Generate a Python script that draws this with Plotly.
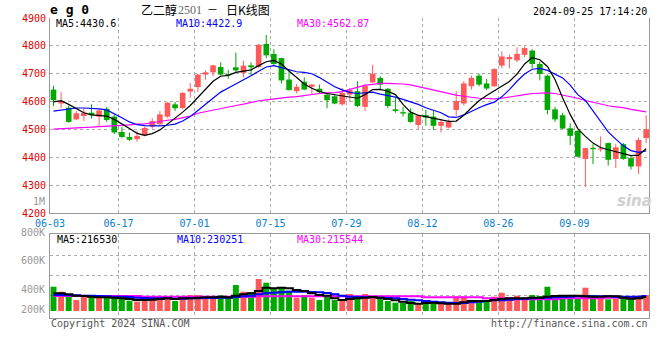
import plotly.graph_objects as go

# ---------------- data ----------------
dates = ["06-03","06-04","06-05","06-06","06-07","06-11","06-12","06-13","06-14","06-17",
         "06-18","06-19","06-20","06-21","06-24","06-25","06-26","06-27","06-28","07-01",
         "07-02","07-03","07-04","07-05","07-08","07-09","07-10","07-11","07-12","07-15",
         "07-16","07-17","07-18","07-19","07-22","07-23","07-24","07-25","07-26","07-29",
         "07-30","07-31","08-01","08-02","08-05","08-06","08-07","08-08","08-09","08-12",
         "08-13","08-14","08-15","08-16","08-19","08-20","08-21","08-22","08-23","08-26",
         "08-27","08-28","08-29","08-30","09-02","09-03","09-04","09-05","09-06","09-09",
         "09-10","09-11","09-12","09-13","09-18","09-19","09-20","09-23","09-24"]

opens = [4643,4593,4578,4536,4548,4560,4546,4574,4546,4491,
         4473,4465,4479,4510,4519,4546,4590,4577,4636,4652,
         4697,4705,4724,4699,4723,4703,4730,4724,4807,4771,
         4756,4679,4637,4671,4653,4646,4625,4619,4590,4625,
         4637,4581,4669,4685,4646,4572,4562,4560,4516,4551,
         4546,4513,4507,4570,4593,4655,4693,4665,4655,4729,
         4752,4748,4768,4783,4735,4693,4572,4551,4504,4495,
         4394,4434,4428,4451,4394,4447,4397,4367,4469]
highs = [4657,4634,4586,4566,4576,4590,4572,4581,4554,4509,
         4489,4495,4510,4540,4566,4598,4599,4634,4667,4699,
         4712,4732,4741,4714,4776,4747,4741,4807,4839,4788,
         4758,4717,4663,4687,4663,4661,4631,4625,4649,4649,
         4673,4661,4732,4691,4649,4614,4581,4576,4554,4570,
         4566,4536,4536,4637,4673,4693,4700,4681,4720,4780,
         4768,4795,4798,4788,4744,4697,4581,4560,4522,4497,
         4435,4447,4475,4453,4447,4451,4408,4471,4551]
lows = [4584,4576,4524,4533,4530,4539,4513,4527,4483,4469,
        4459,4456,4475,4503,4513,4542,4566,4572,4614,4634,
        4679,4691,4693,4682,4705,4687,4693,4720,4756,4729,
        4665,4640,4629,4641,4625,4629,4576,4590,4586,4598,
        4581,4566,4667,4643,4576,4560,4546,4524,4501,4513,
        4498,4489,4504,4548,4586,4643,4655,4641,4653,4720,
        4720,4741,4760,4720,4676,4554,4527,4501,4444,4400,
        4293,4376,4420,4370,4361,4391,4356,4340,4451]
closes = [4605,4602,4527,4558,4560,4551,4568,4534,4489,4473,
          4463,4477,4505,4530,4554,4596,4576,4631,4646,4697,
          4705,4730,4697,4695,4712,4729,4723,4804,4766,4735,
          4676,4641,4653,4643,4661,4634,4605,4593,4631,4641,
          4584,4657,4700,4661,4584,4566,4557,4527,4551,4543,
          4513,4527,4527,4602,4665,4685,4661,4647,4717,4762,
          4760,4771,4792,4735,4699,4570,4536,4503,4477,4402,
          4433,4429,4432,4391,4436,4394,4367,4462,4501]

ma5 = [4599,4603,4590,4574,4560,4552,4551,4548,4536,4521,
       4503,4486,4479,4485,4498,4519,4539,4562,4586,4614,
       4643,4673,4691,4694,4705,4710,4714,4729,4743,4748,
       4735,4710,4687,4663,4648,4636,4629,4625,4621,4617,
       4612,4625,4643,4644,4637,4625,4590,4562,4551,4546,
       4540,4533,4529,4530,4551,4578,4603,4622,4638,4655,
       4672,4699,4735,4758,4750,4726,4679,4614,4554,4503,
       4475,4451,4435,4427,4420,4415,4406,4408,4430.6]
ma10 = [4566,4570,4572,4577,4577,4576,4574,4570,4557,4542,
        4527,4517,4514,4513,4513,4515,4519,4530,4546,4568,
        4590,4610,4634,4649,4663,4676,4693,4709,4724,4729,
        4722,4714,4707,4705,4700,4686,4669,4653,4642,4633,
        4629,4631,4634,4627,4622,4616,4608,4599,4590,4578,
        4570,4560,4545,4543,4552,4566,4578,4589,4598,4617,
        4643,4673,4699,4716,4719,4712,4699,4685,4659,4625,
        4604,4566,4527,4491,4465,4441,4424,4418,4422.9]
ma30 = [4501,4502,4503,4504,4505,4508,4510,4511,4513,4514,
        4516,4519,4520,4524,4529,4533,4536,4541,4548,4558,
        4564,4568,4574,4580,4586,4591,4597,4603,4606,4610,
        4612,4616,4618,4622,4625,4629,4631,4632,4636,4643,
        4650,4659,4662,4665,4665,4665,4663,4660,4654,4648,
        4642,4634,4629,4623,4619,4615,4612,4611,4610,4612,
        4617,4622,4625,4629,4631,4631,4629,4624,4619,4612,
        4604,4597,4590,4585,4581,4578,4572,4568,4562.87]

volume = [374000,297000,262000,169000,231000,231000,220000,231000,231000,195000,
          159000,144000,185000,211000,231000,205000,154000,205000,246000,246000,
          211000,200000,246000,205000,400000,297000,288000,493000,436000,349000,
          354000,313000,205000,246000,205000,169000,246000,169000,169000,262000,
          231000,262000,221000,195000,154000,128000,128000,154000,118000,108000,
          154000,108000,108000,221000,221000,169000,154000,144000,221000,282000,
          185000,236000,185000,246000,231000,374000,236000,205000,185000,185000,
          359000,246000,195000,180000,185000,221000,185000,236000,246000]
vol_ma5 = [272000,272000,257000,236000,231000,221000,210000,210000,205000,195000,
           185000,169000,169000,175000,185000,195000,185000,195000,195000,205000,
           210000,210000,216000,210000,236000,257000,272000,308000,359000,349000,
           359000,349000,323000,308000,272000,246000,236000,195000,169000,185000,
           195000,205000,216000,205000,185000,164000,144000,123000,113000,123000,
           128000,118000,113000,113000,133000,154000,154000,154000,169000,185000,
           195000,195000,195000,205000,205000,221000,231000,236000,236000,236000,
           226000,221000,221000,226000,226000,205000,190000,198000,216530]
vol_ma10 = [246000,246000,241000,241000,236000,236000,231000,226000,221000,221000,
            216000,205000,200000,195000,195000,195000,190000,190000,195000,195000,
            200000,200000,205000,205000,216000,226000,236000,257000,272000,282000,
            287000,298000,298000,298000,293000,287000,277000,257000,236000,221000,
            216000,216000,210000,205000,200000,195000,185000,175000,164000,154000,
            144000,133000,128000,123000,123000,133000,144000,154000,164000,164000,
            175000,185000,190000,195000,200000,205000,210000,216000,221000,226000,
            226000,226000,226000,226000,221000,221000,221000,221000,230251]
vol_ma30 = [231000,231000,231000,231000,231000,231000,231000,231000,231000,231000,
            231000,231000,221000,221000,221000,221000,221000,221000,221000,221000,
            221000,221000,221000,221000,221000,221000,221000,226000,226000,226000,
            226000,226000,226000,226000,226000,226000,226000,226000,226000,228000,
            228000,228000,228000,228000,228000,228000,228000,228000,228000,210000,
            210000,210000,210000,210000,210000,210000,210000,195000,195000,195000,
            195000,182000,182000,182000,182000,182000,182000,195000,195000,195000,
            195000,195000,195000,205000,205000,205000,205000,205000,215544]

xtick_labels = ["06-03","06-17","07-01","07-15","07-29","08-12","08-26","09-09"]
price_ticks = [4200,4300,4400,4500,4600,4700,4800,4900]

# ---------------- styling ----------------
RED = "#ff5a5a"
GREEN = "#00a800"
MONO = "DejaVu Sans Mono"
GRID = "#aaaaaa"
BORDER = "#999999"
W, H = 660.0, 360.0
ML, MR = 50, 11

n = len(dates)
xs = list(range(n))
up = [c >= o for o, c in zip(opens, closes)]
colors = [RED if u else GREEN for u in up]

fig = go.Figure()

# candle bodies
fig.add_trace(go.Bar(
    x=xs, y=[max(abs(c - o), 3) for o, c in zip(opens, closes)],
    base=[min(o, c) for o, c in zip(opens, closes)],
    width=0.74, marker=dict(color=colors, line=dict(width=0)),
    xaxis="x", yaxis="y", hoverinfo="skip"))

# wicks
for col, flag in ((RED, True), (GREEN, False)):
    wx, wy = [], []
    for i in xs:
        if up[i] == flag:
            wx += [i, i, None]
            wy += [lows[i], highs[i], None]
    fig.add_trace(go.Scatter(x=wx, y=wy, mode="lines",
                             line=dict(color=col, width=1),
                             xaxis="x", yaxis="y", hoverinfo="skip"))

# moving averages
for vals, col in ((ma30, "#ff00ff"), (ma10, "#0000ff"), (ma5, "#000000")):
    fig.add_trace(go.Scatter(x=xs, y=vals, mode="lines",
                             line=dict(color=col, width=1.2),
                             xaxis="x", yaxis="y", hoverinfo="skip"))

# volume
fig.add_trace(go.Bar(x=xs, y=volume, width=0.78,
                     marker=dict(color=colors, line=dict(width=0)),
                     xaxis="x2", yaxis="y2", hoverinfo="skip"))
for vals, col in ((vol_ma30, "#ff00ff"), (vol_ma10, "#0000ff"), (vol_ma5, "#000000")):
    fig.add_trace(go.Scatter(x=xs, y=vals, mode="lines",
                             line=dict(color=col, width=2, shape="hvh"),
                             xaxis="x2", yaxis="y2", hoverinfo="skip"))

def py(px):
    return 1 - px / H

def pxx(px):
    return (px - ML) / (W - ML - MR)

grid_x = [dates.index(d) - 0.45 for d in xtick_labels]
xr = [-0.46, 78.37]
vol_px_unit = 15400.0          # volume per pixel
vol_range = [-7 * vol_px_unit, 77 * vol_px_unit]
vol_grid = [56 * vol_px_unit, 36 * vol_px_unit, 16 * vol_px_unit]

fig.update_layout(
    width=660, height=360,
    margin=dict(l=ML, r=MR, t=0, b=0, autoexpand=False),
    paper_bgcolor="white", plot_bgcolor="white",
    showlegend=False, barmode="overlay", hovermode=False,
    xaxis=dict(domain=[0, 1], range=xr, anchor="y", automargin=False,
               tickvals=grid_x, ticktext=xtick_labels,
               showgrid=True, gridcolor=GRID, griddash="dot", gridwidth=1,
               showline=True, linecolor=BORDER, linewidth=1, zeroline=False,
               ticks="outside", ticklen=1, tickcolor="rgba(0,0,0,0)",
               tickfont=dict(family=MONO, size=10, color="#0a80d0")),
    yaxis=dict(domain=[py(213), py(18)], range=[4200, 4900], anchor="x",
               automargin=False, tickvals=price_ticks,
               showgrid=True, gridcolor=GRID, griddash="dot", gridwidth=1,
               showline=True, mirror=True, linecolor=BORDER, linewidth=1,
               zeroline=False,
               ticks="outside", ticklen=1, tickcolor="rgba(0,0,0,0)",
               tickfont=dict(family=MONO, size=10, color="#e00000")),
    xaxis2=dict(domain=[0, 1], range=xr, anchor="y2", automargin=False,
                tickvals=grid_x, showticklabels=False,
                showgrid=True, gridcolor=GRID, griddash="dot", gridwidth=1,
                showline=True, mirror=True, linecolor=BORDER, linewidth=1,
                zeroline=False),
    yaxis2=dict(domain=[py(318), py(234)], range=vol_range, anchor="x2",
                automargin=False, tickvals=vol_grid, showticklabels=False,
                showgrid=True, gridcolor=GRID, griddash="dot", gridwidth=1,
                showline=True, mirror=True, linecolor=BORDER, linewidth=1,
                zeroline=False),
)

ann = []
def text(x, y, s, color="#000", size=10, xanchor="left", family=MONO):
    ann.append(dict(x=pxx(x), y=py(y), xref="paper", yref="paper", text=s,
                    showarrow=False, xanchor=xanchor, yanchor="middle",
                    font=dict(family=family, size=size, color=color)))

# header
text(48, 9, "<b>e g 0</b>", size=13)
text(139, 9, "乙二醇", size=12, family="Noto Sans CJK SC")
text(176, 10, "2501", size=12, color="#666666", family="Liberation Serif")
text(205, 9, "－", size=11, family="Noto Sans CJK SC")
text(224, 9, "日K线图", size=12, family="Noto Sans CJK SC")
text(649, 12, "2024-09-25 17:14:20", xanchor="right")
# MA labels main
text(54, 24, "MA5:4430.6", color="#000000")
text(174, 24, "MA10:4422.9", color="#0000ff")
text(295, 24, "MA30:4562.87", color="#ff00ff")
# volume MA labels
text(55, 239, "MA5:216530", color="#000000")
text(175, 239, "MA10:230251", color="#0000ff")
text(295, 239, "MA30:215544", color="#ff00ff")
# volume axis labels
for lbl, yy in (("1M", 201), ("800K", 232), ("600K", 260), ("400K", 289), ("200K", 309)):
    text(47, yy, lbl, color="#999999", xanchor="right")
# footer
text(49, 323, "Copyright 2024 SINA.COM", color="#555555")
text(650, 323, "http://finance.sina.com.cn", color="#555555", xanchor="right")
# watermark
text(634, 201, "<b><i>sina</i></b>", color="#d0d0d0", size=15, xanchor="center",
     family="DejaVu Sans")

fig.update_layout(annotations=ann)
fig.write_html("out.html",
               config={"displayModeBar": False, "staticPlot": True},
               post_script="document.body.style.margin='0px';"
                           "document.body.style.overflow='hidden';")
